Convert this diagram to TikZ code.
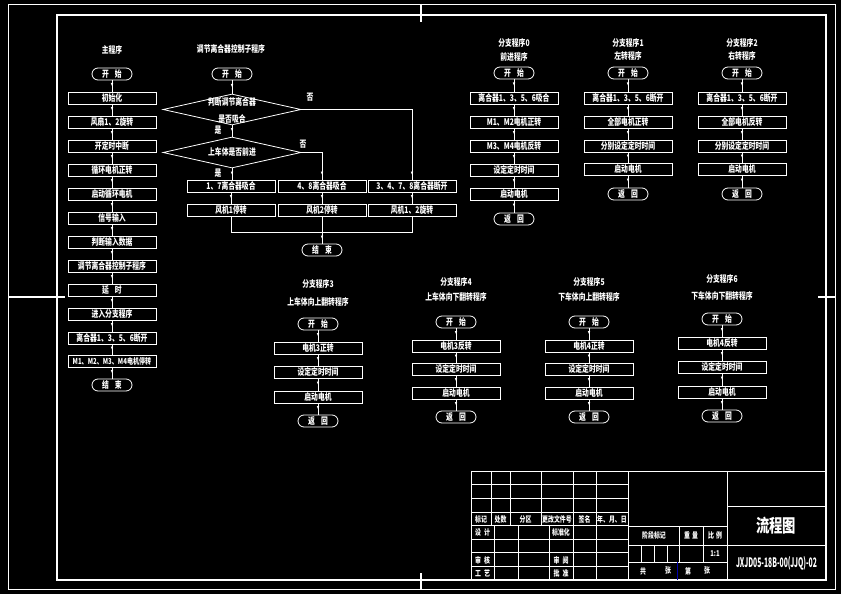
\documentclass[tikz,border=0pt]{standalone}
\usepackage{fontspec}
\setmainfont{Noto Sans CJK SC}[FakeStretch=0.74]
\usetikzlibrary{shapes.geometric,arrows.meta,decorations.markings}
\tikzset{
  ln/.style={white, line width=0.7pt},
  midarr/.style={postaction={decorate}, decoration={markings, mark=at position 0.5 with {\arrow{Triangle[length=3pt,width=2.2pt]}}}},
  endarr/.style={postaction={decorate}, decoration={markings, mark=at position -5pt with {\arrow{Triangle[length=3pt,width=2.2pt]}}}},
  box/.style={draw=white, line width=0.8pt, minimum width=88pt, minimum height=12pt, inner sep=0pt, text=white, font=\fontsize{9.2}{9.5}\selectfont\bfseries},
  smallbox/.style={box, font=\fontsize{8.2}{9}\selectfont\bfseries},
  term/.style={box, rounded corners=6pt, minimum width=40pt},
  dia/.style={shape=diamond, draw=white, line width=0.8pt, inner sep=0pt, minimum width=138pt, minimum height=31pt},
  lab/.style={text=white, inner sep=0pt, font=\fontsize{9.2}{9.5}\selectfont\bfseries},
  tb/.style={text=white, inner sep=0pt, font=\fontsize{8}{8}\selectfont\bfseries},
  frame/.style={white, line width=1.2pt},
  tbl/.style={white, line width=0.8pt},
}
\newcommand\mychain[1]{\foreach \a/\b in {#1} {\draw[ln,midarr] (\a) -- (\b);}}
\begin{document}
\begin{tikzpicture}[x=1pt,y=-1pt]
\useasboundingbox (0,0) rectangle (841,594);
\fill[black] (0,0) rectangle (841,594);
% frame
\draw[white, line width=0.5pt] (8,4) rectangle (835,589);
\draw[frame] (57,15) rectangle (826,580);
\draw[frame] (421,4) -- (421,22);
\draw[frame] (421,573) -- (421,589);
\draw[frame] (8,297) -- (65,297);
\draw[frame] (818,297) -- (835,297);

% main program
\node[lab] (mt) at (112,50) {主程序};
\node[term] (m0) at (112,74) {开\hspace{6pt}始};
\node[box] (m1) at (112,98) {初始化};
\node[box] (m2) at (112,122) {风扇1、2旋转};
\node[box] (m3) at (112,146) {开定时中断};
\node[box] (m4) at (112,170) {循环电机正转};
\node[box] (m5) at (112,194) {启动循环电机};
\node[box] (m6) at (112,218) {信号输入};
\node[box] (m7) at (112,242) {判断输入数据};
\node[box] (m8) at (112,266) {调节离合器控制子程序};
\node[box] (m9) at (112,290) {延\hspace{6pt}时};
\node[box] (m10) at (112,314) {进入分支程序};
\node[box] (m11) at (112,338) {离合器1、3、5、6断开};
\node[smallbox] (m12) at (112,361) {M1、M2、M3、M4电机停转};
\node[term] (m13) at (112,385) {结\hspace{6pt}束};
\mychain{m0/m1,m1/m2,m2/m3,m3/m4,m4/m5,m5/m6,m6/m7,m7/m8,m8/m9,m9/m10,m10/m11,m11/m12,m12/m13}

% clutch control subprogram
\node[lab] (ct) at (231,49) {调节离合器控制子程序};
\node[term] (c0) at (232,74) {开\hspace{6pt}始};
\node[dia] (d1) at (232,109.5) {};
\node[lab] (d1a) at (232,102) {判断调节离合器};
\node[lab] (d1b) at (232,119) {是否吸合};
\node[dia] (d2) at (232,152.5) {};
\node[lab] (d2a) at (232,152) {上车体是否前进};
\node[lab] (n1) at (310,97) {否};
\node[lab] (y1) at (218,130) {是};
\node[lab] (n2) at (303,144) {否};
\node[lab] (y2) at (218,173) {是};
\node[box] (c1) at (231,186) {1、7离合器吸合};
\node[box] (c2) at (322,186) {4、8离合器吸合};
\node[box] (c3) at (412,186) {3、4、7、8离合器断开};
\node[box] (c4) at (231,210) {风机1停转};
\node[box] (c5) at (322,210) {风机2停转};
\node[box] (c6) at (412,210) {风机1、2旋转};
\node[term] (ce) at (322,250) {结\hspace{6pt}束};
\draw[ln,midarr] (c0) -- (d1.north);
\draw[ln,midarr] (d1.south) -- (d2.north);
\draw[ln,endarr] (d1.east) -| (c3.north);
\draw[ln,endarr] (d2.east) -| (c2.north);
\draw[ln,endarr] (d2.south) -- (c1.north -| d2.south);
\mychain{c1/c4,c2/c5,c3/c6}
\coordinate (jl) at (231,232);
\coordinate (jr) at (412,232);
\draw[ln] (c4.south) -- (jl) -- (jr) -- (c6.south);
\draw[ln,endarr] (c5.south) -- (ce.north);

% branch 0
\node[lab] (b0t1) at (514,43) {分支程序0};
\node[lab] (b0t2) at (514,57) {前进程序};
\node[term] (b0s) at (514,73) {开\hspace{6pt}始};
\node[box] (b0a) at (514,98) {离合器1、3、5、6吸合};
\node[box] (b0b) at (514,122) {M1、M2电机正转};
\node[box] (b0c) at (514,146) {M3、M4电机反转};
\node[box] (b0d) at (514,170) {设定定时时间};
\node[box] (b0e) at (514,194) {启动电机};
\node[term] (b0r) at (514,219) {返\hspace{6pt}回};
\mychain{b0s/b0a,b0a/b0b,b0b/b0c,b0c/b0d,b0d/b0e,b0e/b0r}

% branch 1
\node[lab] (b1t1) at (628,43) {分支程序1};
\node[lab] (b1t2) at (628,56) {左转程序};
\node[term] (b1s) at (628,73) {开\hspace{6pt}始};
\node[box] (b1a) at (628,98) {离合器1、3、5、6断开};
\node[box] (b1b) at (628,122) {全部电机正转};
\node[box] (b1c) at (628,146) {分别设定定时时间};
\node[box] (b1d) at (628,169) {启动电机};
\node[term] (b1r) at (628,194) {返\hspace{6pt}回};
\mychain{b1s/b1a,b1a/b1b,b1b/b1c,b1c/b1d,b1d/b1r}

% branch 2
\node[lab] (b2t1) at (742,43) {分支程序2};
\node[lab] (b2t2) at (742,56) {右转程序};
\node[term] (b2s) at (742,73) {开\hspace{6pt}始};
\node[box] (b2a) at (742,98) {离合器1、3、5、6断开};
\node[box] (b2b) at (742,122) {全部电机反转};
\node[box] (b2c) at (742,146) {分别设定定时时间};
\node[box] (b2d) at (742,169) {启动电机};
\node[term] (b2r) at (742,194) {返\hspace{6pt}回};
\mychain{b2s/b2a,b2a/b2b,b2b/b2c,b2c/b2d,b2d/b2r}

% branch 3
\node[lab] (b3t1) at (318,284) {分支程序3};
\node[lab] (b3t2) at (318,302) {上车体向上翻转程序};
\node[term] (b3s) at (318,324) {开\hspace{6pt}始};
\node[box] (b3a) at (318,348) {电机3正转};
\node[box] (b3b) at (318,372) {设定定时时间};
\node[box] (b3c) at (318,397) {启动电机};
\node[term] (b3r) at (318,421) {返\hspace{6pt}回};
\mychain{b3s/b3a,b3a/b3b,b3b/b3c,b3c/b3r}

% branch 4
\node[lab] (b4t1) at (456,282) {分支程序4};
\node[lab] (b4t2) at (456,297) {上车体向下翻转程序};
\node[term] (b4s) at (456,322) {开\hspace{6pt}始};
\node[box] (b4a) at (456,346) {电机3反转};
\node[box] (b4b) at (456,369) {设定定时时间};
\node[box] (b4c) at (456,393) {启动电机};
\node[term] (b4r) at (456,417) {返\hspace{6pt}回};
\mychain{b4s/b4a,b4a/b4b,b4b/b4c,b4c/b4r}

% branch 5
\node[lab] (b5t1) at (589,282) {分支程序5};
\node[lab] (b5t2) at (589,297) {下车体向上翻转程序};
\node[term] (b5s) at (589,322) {开\hspace{6pt}始};
\node[box] (b5a) at (589,346) {电机4正转};
\node[box] (b5b) at (589,369) {设定定时时间};
\node[box] (b5c) at (589,393) {启动电机};
\node[term] (b5r) at (589,417) {返\hspace{6pt}回};
\mychain{b5s/b5a,b5a/b5b,b5b/b5c,b5c/b5r}

% branch 6
\node[lab] (b6t1) at (722,279) {分支程序6};
\node[lab] (b6t2) at (722,296) {下车体向下翻转程序};
\node[term] (b6s) at (722,319) {开\hspace{6pt}始};
\node[box] (b6a) at (722,343) {电机4反转};
\node[box] (b6b) at (722,367) {设定定时时间};
\node[box] (b6c) at (722,392) {启动电机};
\node[term] (b6r) at (722,416) {返\hspace{6pt}回};
\mychain{b6s/b6a,b6a/b6b,b6b/b6c,b6c/b6r}

% title block
\draw[tbl] (471,580) -- (471,471) -- (826,471);
\foreach \y in {484.6,498.3,511.9,525.5,539.1,552.8,566.4} {\draw[tbl] (471,\y) -- (628,\y);}
\foreach \x in {491,510,541} {\draw[tbl] (\x,471) -- (\x,525.5);}
\foreach \x in {494,518,549} {\draw[tbl] (\x,525.5) -- (\x,580);}
\foreach \x in {573,596} {\draw[tbl] (\x,471) -- (\x,580);}
\draw[tbl] (628,471) -- (628,580);
\draw[tbl] (727,471) -- (727,580);
\foreach \y in {526,545,562} {\draw[tbl] (628,\y) -- (727,\y);}
\foreach \x in {679,703} {\draw[tbl] (\x,526) -- (\x,562);}
\foreach \x in {641,654,667} {\draw[tbl] (\x,545) -- (\x,562);}
\draw[blue!70!black, line width=0.8pt] (677,562) -- (677,580);
\draw[tbl] (727,506) -- (826,506);
\draw[tbl] (727,545) -- (826,545);

\node[tb] (tb1) at (481,519) {标记};
\node[tb] (tb2) at (500.5,519) {处数};
\node[tb] (tb3) at (525.5,519) {分区};
\node[tb] (tb4) at (557,519) {更改文件号};
\node[tb] (tb5) at (584.5,519) {签名};
\node[tb] (tb6) at (612,519) {年、月、日};
\node[tb] (tb7) at (482.5,532) {设\hspace{3pt}计};
\node[tb] (tb8) at (561,532) {标准化};
\node[tb] (tb9) at (482.5,560) {审\hspace{3pt}核};
\node[tb] (tb10) at (561,560) {审\hspace{3pt}阅};
\node[tb] (tb11) at (482.5,573.5) {工\hspace{3pt}艺};
\node[tb] (tb12) at (561,573.5) {批\hspace{3pt}准};
\node[tb] (tb13) at (654,535.5) {阶段标记};
\node[tb] (tb14) at (691,535.5) {重\hspace{2pt}量};
\node[tb] (tb15) at (715,535.5) {比\hspace{2pt}例};
\node[tb] (tb16) at (715,553.5) {1:1};
\node[tb] (tb17) at (643,571) {共};
\node[tb] (tb18) at (668,571) {张};
\node[tb] (tb19) at (688,571) {第};
\node[tb] (tb20) at (707,571) {张};
\node[text=white, inner sep=0pt, font=\fontsize{18}{18}\selectfont\bfseries] (tname) at (776,526) {流程图};
\node[text=white, inner sep=0pt, font=\bfseries] (tnum) at (776.5,563) {\resizebox{81pt}{11pt}{JXJD05-18B-00(JJQ)-02}};
\end{tikzpicture}
\end{document}
